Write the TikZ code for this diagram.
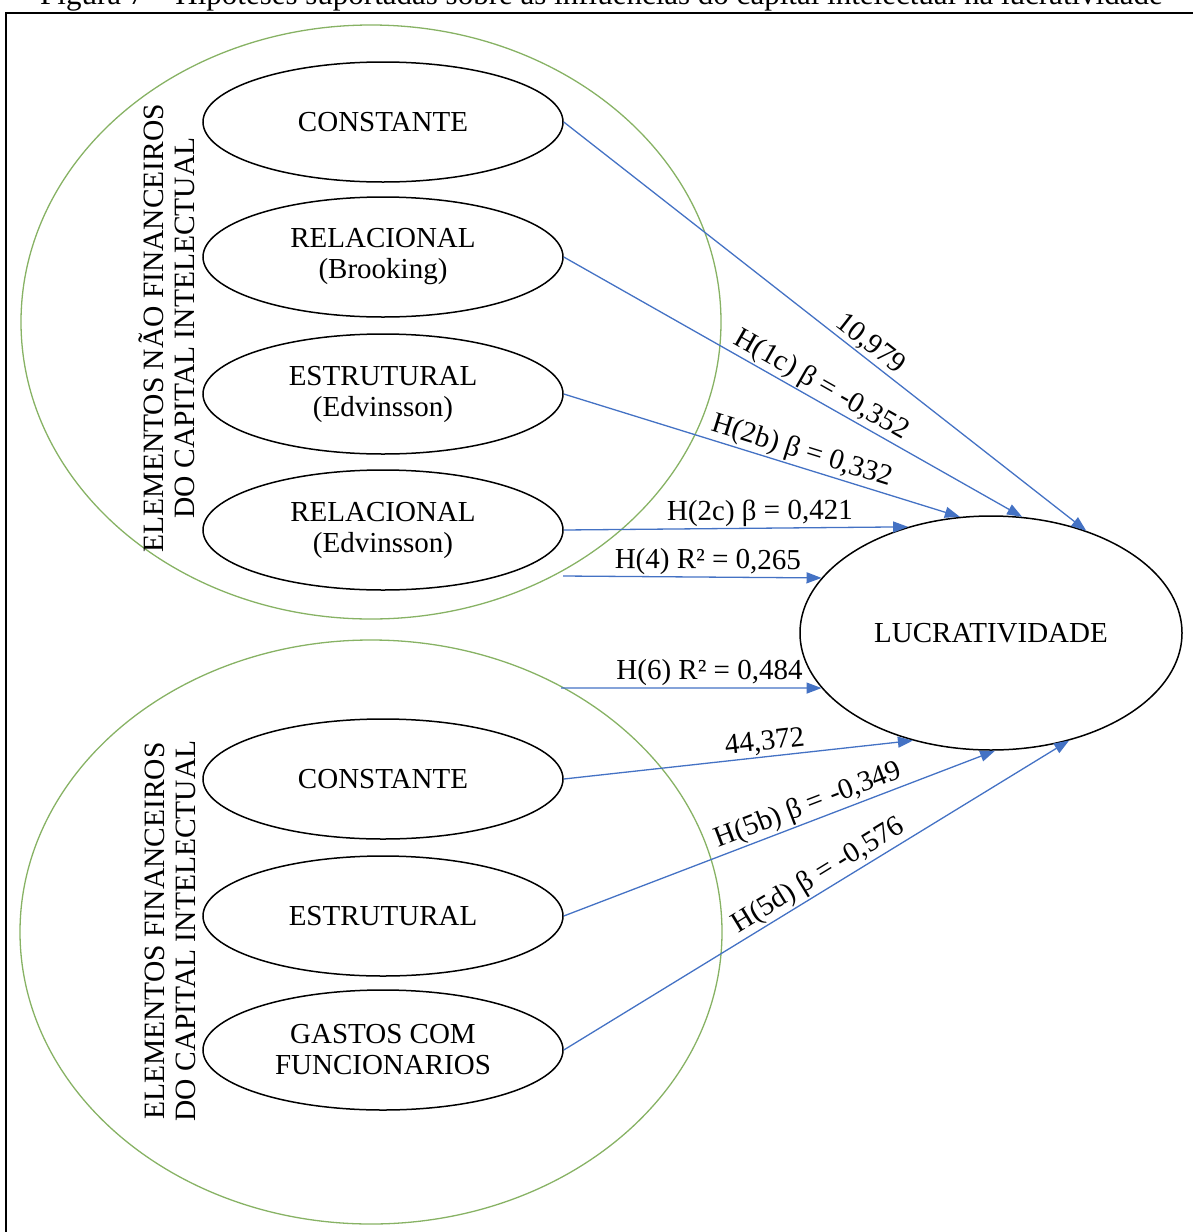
\documentclass[tikz,border=0pt]{standalone}
\usepackage{fontspec}
\setmainfont{Liberation Serif}
\usetikzlibrary{shapes.geometric,arrows.meta}
\definecolor{arrowblue}{RGB}{68,114,196}
\definecolor{circgreen}{RGB}{135,178,100}
\begin{document}
\begin{tikzpicture}[x=1pt,y=-1pt,
  varnode/.style={ellipse,draw=black,line width=1.5pt,minimum width=360pt,minimum height=120pt,inner sep=1pt,align=center,font=\fontsize{29}{31}\selectfont},
  grp/.style={ellipse,draw=circgreen,line width=1.3pt,inner sep=0pt},
  link/.style={draw=arrowblue,line width=1.3pt,-{Triangle[length=15pt,width=11pt]}},
  lbl/.style={sloped,above,inner sep=1.5pt,font=\fontsize{29}{32}\selectfont},
  grouplabel/.style={rotate=90,align=center,inner sep=0pt,font=\fontsize{29.5}{31}\selectfont}
]
\useasboundingbox (0,0) rectangle (1193,1232);
\clip (0,0) rectangle (1193,1232);

% caption (cut off at the top of the picture)
\node[anchor=base west,inner sep=0pt,font=\fontsize{31}{34}\selectfont] (cap) at (40,4)
  {Figura 7 – Hipóteses suportadas sobre as influências do capital intelectual na lucratividade};

% frame
\draw[line width=2.5pt] (6,1250) -- (6,13) -- (1210,13);

% group circles
\node[grp,minimum width=700pt,minimum height=594pt] (g1) at (371,322) {};
\node[grp,minimum width=702pt,minimum height=584pt] (g2) at (371,932) {};

% group labels
\node[grouplabel] (lab1) at (167,328) {ELEMENTOS NÃO FINANCEIROS\\DO CAPITAL INTELECTUAL};
\node[grouplabel] (lab2) at (170,931) {ELEMENTOS FINANCEIROS\\DO CAPITAL INTELECTUAL};

% variables
\node[varnode] (t1) at (383,122) {CONSTANTE};
\node[varnode] (t2) at (383,257) {RELACIONAL\\(Brooking)};
\node[varnode] (t3) at (383,394) {ESTRUTURAL\\(Edvinsson)};
\node[varnode] (t4) at (383,530) {RELACIONAL\\(Edvinsson)};
\node[varnode] (b1) at (383,779) {CONSTANTE};
\node[varnode] (b2) at (383,916) {ESTRUTURAL};
\node[varnode] (b3) at (383,1050) {GASTOS COM\\FUNCIONARIOS};

\node[ellipse,draw=black,line width=1.5pt,minimum width=382pt,minimum height=234pt,inner sep=1pt,font=\fontsize{29}{32}\selectfont] (lucr) at (991,633) {LUCRATIVIDADE};

% free starts
\coordinate (h4s) at (563,576);
\coordinate (h6s) at (561,688);

% connectors
\draw[link] (t1.east) -- node[lbl,pos=.57]{10,979} (lucr.47);
\draw[link] (t2.east) -- node[lbl,pos=.545]{H(1c) β = -0,352} (lucr.75);
\draw[link] (t3.east) -- node[lbl,pos=.59]{H(2b) β = 0,332} (lucr.105);
\draw[link] (t4.east) -- node[lbl,pos=.57]{H(2c) β = 0,421} (lucr.128);
\draw[link] (h4s) -- node[lbl,pos=.56]{H(4) R² = 0,265} (lucr.162.6);
\draw[link] (h6s) -- node[lbl,pos=.57]{H(6) R² = 0,484} (lucr.198.6);
\draw[link] (b1.east) -- node[lbl,pos=.58]{44,372} (lucr.234);
\draw[link] (b2.east) -- node[lbl,pos=.58]{H(5b) β = -0,349} (lucr.272);
\draw[link] (b3.east) -- node[lbl,pos=.52]{H(5d) β = -0,576} (lucr.306);
\end{tikzpicture}
\end{document}
